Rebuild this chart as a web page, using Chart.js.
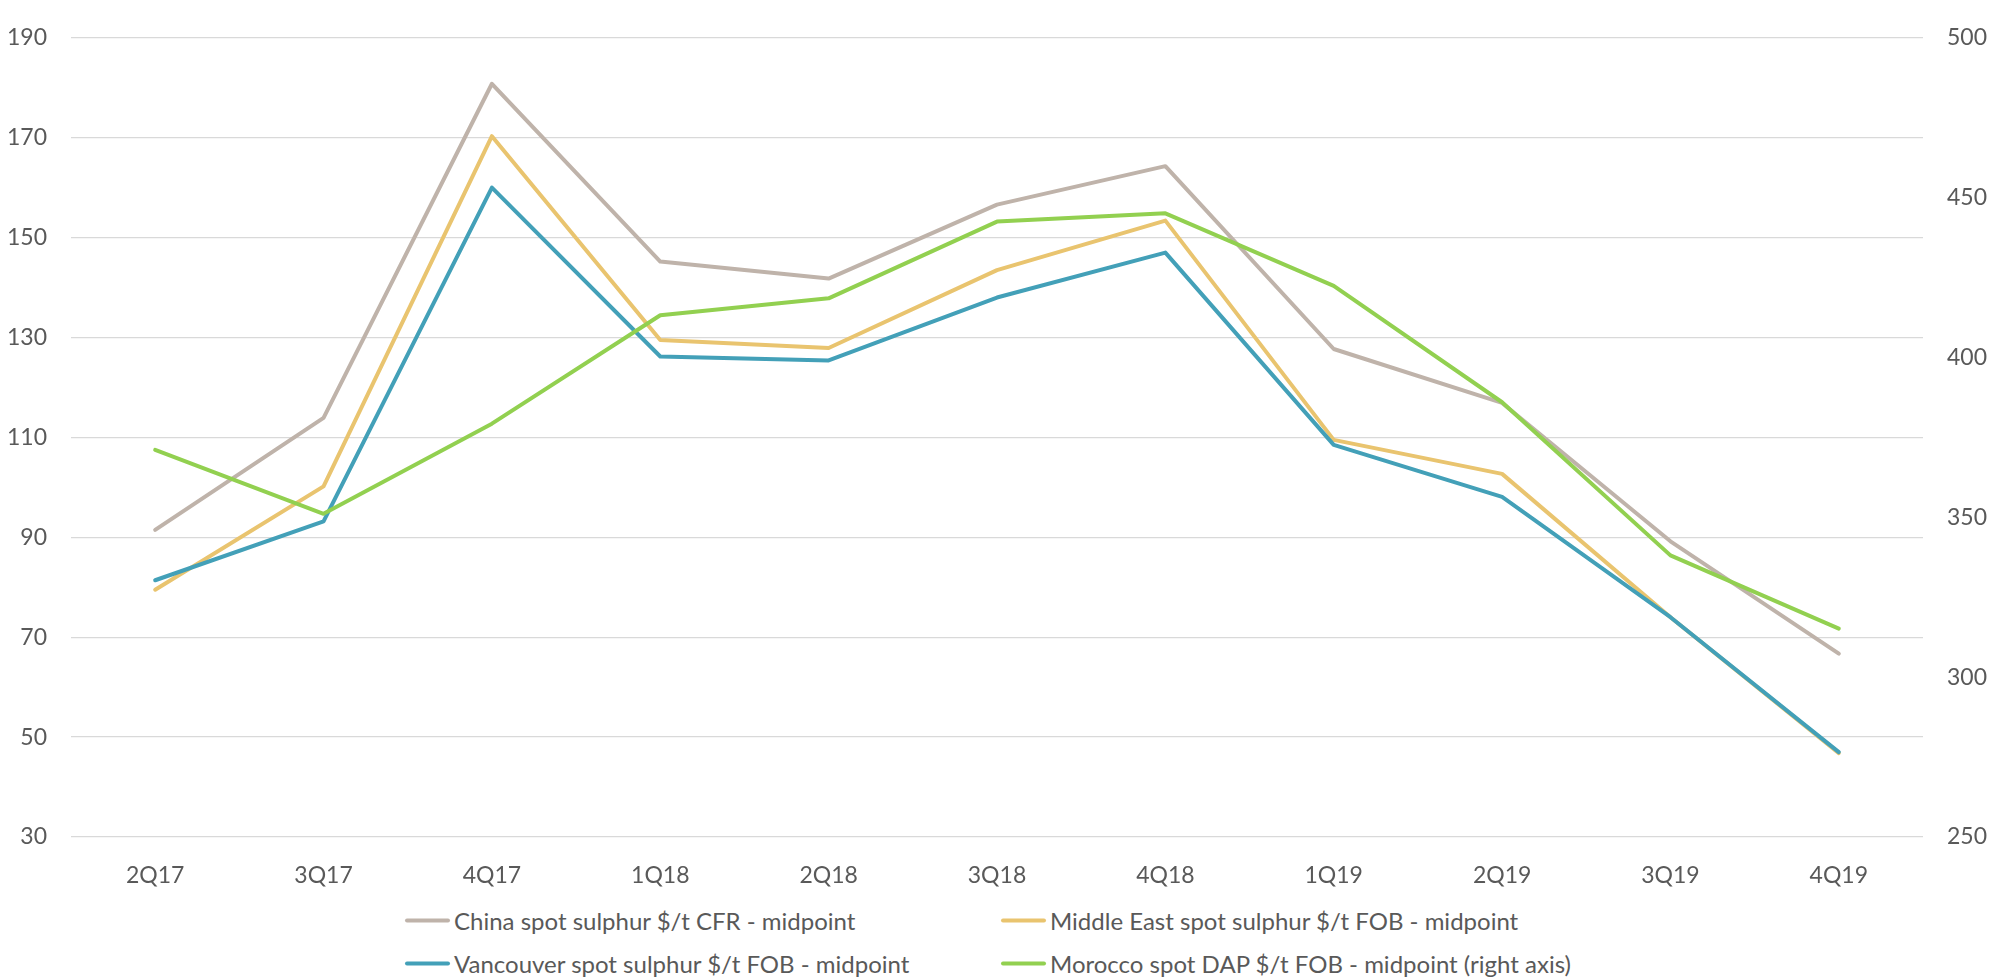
<!DOCTYPE html>
<html>
<head>
<meta charset="utf-8">
<title>Spot sulphur and DAP prices</title>
<script src="https://cdn.jsdelivr.net/npm/chart.js@4.4.1/dist/chart.umd.min.js"></script>
<style>
  html, body { margin: 0; padding: 0; background: #fff; overflow: hidden; }
  #wrap { position: relative; width: 1994px; height: 980px; }
  #chart { display: block; }
  #legend { position: absolute; left: 0; top: 0; font-family: Lato, sans-serif; font-size: 24px; color: #595959; }
  .item { position: absolute; display: flex; align-items: center; white-space: nowrap; transform: translateY(-50%); }
  .swatch { width: 45px; height: 4px; border-radius: 2px; margin-right: 4px; }
</style>
</head>
<body>
<div id="wrap">
  <canvas id="chart" width="1994" height="890"></canvas>
  <div id="legend"></div>
</div>
<script>
// quarters on the x axis
const quarters = ['2Q17', '3Q17', '4Q17', '1Q18', '2Q18', '3Q18', '4Q18', '1Q19', '2Q19', '3Q19', '4Q19'];

// sulphur prices, $/t (left axis)
const chinaCfr = [91.5, 113.9, 180.8, 145.2, 141.8, 156.6, 164.3, 127.7, 116.9, 89.2, 66.7];
const middleEastFob = [79.5, 100.2, 170.3, 129.5, 127.9, 143.5, 153.4, 109.5, 102.7, 74.0, 46.8];
const vancouverFob = [81.4, 93.2, 160.0, 126.2, 125.4, 138.0, 147.0, 108.5, 98.1, 74.0, 47.0];

// DAP price, $/t (right axis)
const moroccoDap = [371.1, 351.1, 379.3, 413.2, 418.5, 442.5, 445.1, 422.4, 386.0, 338.1, 315.2];

// axis ranges: [min, max, step]
const leftAxis = [30, 190, 20];
const rightAxis = [250, 500, 50];

const seriesNames = [
  'China spot sulphur $/t CFR - midpoint',
  'Middle East spot sulphur $/t FOB - midpoint',
  'Vancouver spot sulphur $/t FOB - midpoint',
  'Morocco spot DAP $/t FOB - midpoint (right axis)'
];
const seriesColors = ['#bfb3aa', '#e9c46f', '#43a0b8', '#92d050'];

const tickFont = { family: 'Lato, sans-serif', size: 23 };
const textColor = '#595959';

function line(label, data, color, axis, order) {
  return {
    label: label,
    data: data,
    yAxisID: axis,
    borderColor: color,
    backgroundColor: color,
    borderWidth: 4,
    borderCapStyle: 'round',
    borderJoinStyle: 'round',
    pointRadius: 0,
    pointHoverRadius: 0,
    tension: 0,
    fill: false,
    order: order
  };
}

const chart = new Chart(document.getElementById('chart').getContext('2d'), {
  type: 'line',
  data: {
    labels: quarters,
    datasets: [
      line(seriesNames[0], chinaCfr, seriesColors[0], 'y', 4),
      line(seriesNames[1], middleEastFob, seriesColors[1], 'y', 3),
      line(seriesNames[2], vancouverFob, seriesColors[2], 'y', 2),
      line(seriesNames[3], moroccoDap, seriesColors[3], 'y1', 1)
    ]
  },
  options: {
    responsive: false,
    animation: false,
    layout: { padding: { top: 21, left: 0, right: 0, bottom: 0 } },
    plugins: {
      legend: { display: false },
      tooltip: { enabled: false }
    },
    scales: {
      x: {
        offset: true,
        grid: { display: false },
        border: { display: false },
        ticks: { font: tickFont, color: textColor, padding: 17, maxRotation: 0 },
        afterFit: function(scale) { scale.height = 53; }
      },
      y: {
        position: 'left',
        min: leftAxis[0],
        max: leftAxis[1],
        grid: { color: '#d9d9d9', lineWidth: 1.3, drawTicks: false },
        border: { display: false },
        ticks: { stepSize: leftAxis[2], font: tickFont, color: textColor, padding: 24 },
        afterFit: function(scale) { scale.width = 71; }
      },
      y1: {
        position: 'right',
        min: rightAxis[0],
        max: rightAxis[1],
        grid: { display: false, drawTicks: false },
        border: { display: false },
        ticks: { stepSize: rightAxis[2], font: tickFont, color: textColor, padding: 24 },
        afterFit: function(scale) { scale.width = 71; }
      }
    }
  }
});

// two-column legend under the plot
const slots = [[405, 920], [1001, 920], [405, 963], [1001, 963]];
const legend = document.getElementById('legend');
chart.data.datasets.forEach(function(ds, i) {
  const item = document.createElement('div');
  item.className = 'item';
  item.style.left = slots[i][0] + 'px';
  item.style.top = slots[i][1] + 'px';
  const swatch = document.createElement('span');
  swatch.className = 'swatch';
  swatch.style.background = ds.borderColor;
  const text = document.createElement('span');
  text.textContent = ds.label;
  item.appendChild(swatch);
  item.appendChild(text);
  legend.appendChild(item);
});
</script>
</body>
</html>
